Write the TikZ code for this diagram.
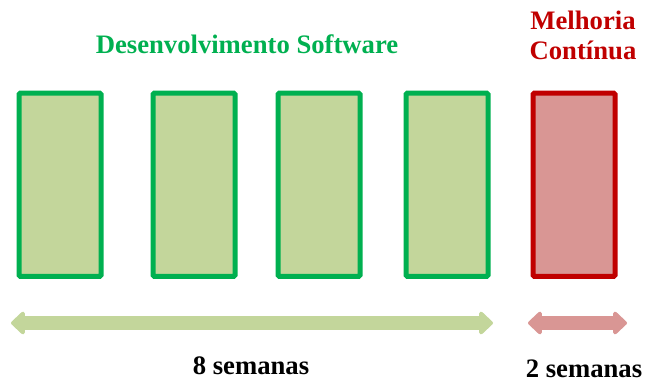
\documentclass[tikz,border=0pt]{standalone}
\usepackage{fontspec}
\setmainfont{Liberation Serif}
\usetikzlibrary{arrows.meta}
\definecolor{devline}{RGB}{0,176,80}
\definecolor{devfill}{RGB}{195,214,155}
\definecolor{melline}{RGB}{192,0,0}
\definecolor{melfill}{RGB}{217,150,148}
\tikzset{
  sprint/.style={draw=devline, fill=devfill, line width=3.75pt, rounded corners=1pt,
    minimum width=61.5pt, minimum height=137.5pt, inner sep=0pt, outer sep=0pt,
    anchor=north west},
  improve/.style={sprint, draw=melline, fill=melfill},
  span/.style={line width=10pt,
    {Triangle[length=11pt,width=20pt,round]}-{Triangle[length=11pt,width=20pt,round]}},
  lbl/.style={font=\fontsize{20}{22.5}\selectfont\bfseries, align=center, inner sep=0pt},
}
\begin{document}
\begin{tikzpicture}[x=0.75pt,y=-0.75pt]
\useasboundingbox (0,0) rectangle (646,383);
% sprint boxes
\node[sprint] (s1) at (19,93) {};
\node[sprint] (s2) at (153,93) {};
\node[sprint] (s3) at (278,93) {};
\node[sprint] (s4) at (406,93) {};
\node[improve] (m1) at (533,93) {};
% headings
\node[lbl, text=devline] (dev) at (247,44) {Desenvolvimento Software};
\node[lbl, text=melline] (mel) at (583,35) {Melhoria\\Contínua};
% duration arrows
\coordinate (a1) at (11,323);
\coordinate (a2) at (493,323);
\coordinate (b1) at (528,323);
\coordinate (b2) at (627,323);
\draw[span, devfill] (a1) -- (a2);
\draw[span, melfill] (b1) -- (b2);
\node[lbl] (w8) at (251,366) {8 semanas};
\node[lbl] (w2) at (584,369) {2 semanas};
\end{tikzpicture}
\end{document}
